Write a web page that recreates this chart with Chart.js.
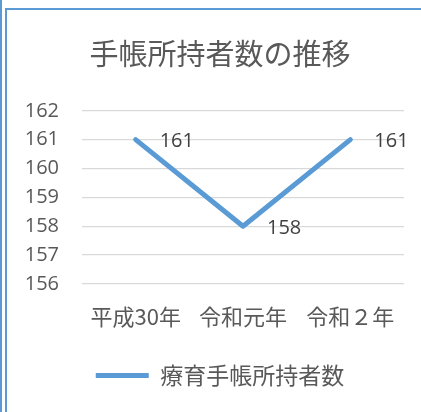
<!DOCTYPE html>
<html>
<head>
<meta charset="utf-8">
<script src="https://cdn.jsdelivr.net/npm/chart.js@4/dist/chart.umd.min.js"></script>
<style>
  body { margin: 0; background: #fff; }
  #wrap { position: relative; width: 421px; height: 412px; overflow: hidden; }
  #wrap canvas { position: absolute; left: 0; top: 0; }
  .lineOuter { position: absolute; left: 0; top: 0; width: 2px; height: 412px; background: #5b9bd5; }
  .frame { position: absolute; left: 5px; top: 8px; right: -10px; bottom: -10px;
           border-left: 2px solid #5b9bd5; border-top: 2px solid #5b9bd5; }
</style>
</head>
<body>
<div id="wrap">
  <canvas id="grafico" width="421" height="412"></canvas>
  <div class="lineOuter"></div>
  <div class="frame"></div>
</div>
<script>
// datos
const titulo = '手帳所持者数の推移'
const anos = ['平成30年', '令和元年', '令和２年']
const serieNome = '療育手帳所持者数'
const valores = [161, 158, 161]
const yMin = 156
const yMax = 162

const azul = '#5b9bd5'
const cinza = '#595959'
const fonteNum = '"Open Sans", "Noto Sans CJK JP", sans-serif'
const fonteJp = '"Noto Sans CJK JP", "Open Sans", sans-serif'

// rotulos de valor a direita de cada ponto
const rotulos = {
    id: 'rotulos',
    afterDatasetsDraw(chart) {
        const ctx = chart.ctx
        const meta = chart.getDatasetMeta(0)
        ctx.save()
        ctx.font = '20px ' + fonteNum
        ctx.fillStyle = '#404040'
        ctx.textAlign = 'left'
        ctx.textBaseline = 'middle'
        meta.data.forEach((pt, i) => {
            ctx.fillText(String(valores[i]), pt.x + 24, pt.y + 2)
        })
        ctx.restore()
    }
}

const ctx = document.getElementById('grafico')
new Chart(ctx, {
    type: 'line',
    data: {
        labels: anos,
        datasets: [{
            label: serieNome,
            data: valores,
            borderColor: azul,
            backgroundColor: azul,
            borderWidth: 5,
            borderCapStyle: 'round',
            borderJoinStyle: 'round',
            pointRadius: 0,
            pointHoverRadius: 0,
            tension: 0
        }]
    },
    options: {
        responsive: false,
        animation: false,
        layout: { padding: { left: 24, right: 5, top: 0, bottom: 15 } },
        plugins: {
            tooltip: { enabled: false },
            title: {
                display: true,
                text: titulo,
                color: cinza,
                font: { family: fonteJp, size: 29, weight: 'normal' },
                padding: { top: 37, bottom: 39 }
            },
            legend: {
                position: 'bottom',
                labels: {
                    usePointStyle: true,
                    pointStyle: 'line',
                    pointStyleWidth: 53,
                    color: cinza,
                    font: { family: fonteJp, size: 23 },
                    padding: 10
                }
            }
        },
        scales: {
            x: {
                offset: true,
                grid: { display: false },
                border: { display: false },
                ticks: { color: cinza, font: { family: fonteJp, size: 22 }, padding: 11, maxRotation: 0 },
                afterFit: (scale) => { scale.height = 70 }
            },
            y: {
                min: yMin,
                max: yMax,
                grid: { color: '#d9d9d9', lineWidth: 1.3, drawTicks: false },
                border: { display: false },
                ticks: { stepSize: 1, color: cinza, font: { family: fonteNum, size: 20 }, padding: 23 },
                afterFit: (scale) => { scale.width = 58 }
            },
            // eixo vazio so para reservar a margem direita
            yDir: {
                position: 'right',
                grid: { display: false },
                border: { display: false },
                ticks: { display: false },
                afterFit: (scale) => { scale.width = 12 }
            }
        }
    },
    plugins: [rotulos]
})
</script>
</body>
</html>
